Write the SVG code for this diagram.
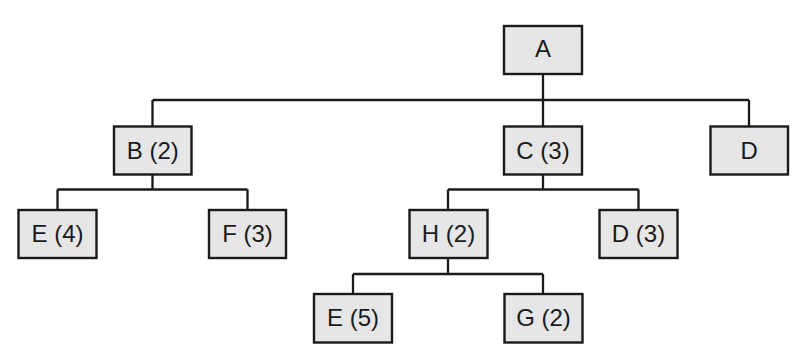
<svg xmlns="http://www.w3.org/2000/svg" width="810" height="363" viewBox="0 0 810 363">
<style>
.n rect{fill:#e6e6e6;stroke:#1a1a1a;stroke-width:2.4}
.n text{font-family:"Liberation Sans",Arial,sans-serif;font-size:24px;fill:#1a1a1a;text-anchor:middle}
.c path{fill:none;stroke:#1a1a1a;stroke-width:2.3}
</style>
<rect width="810" height="363" fill="#ffffff"/>
<g class="c" id="connectors">
<path d="M543 74V100M152.5 100H749M152.5 100V126M543 100V126M749 100V126"/>
<path d="M152.5 174V189.5M57.5 189.5H247.5M57.5 189.5V210M247.5 189.5V210"/>
<path d="M543 174V189.5M448 189.5H638.5M448 189.5V210M638.5 189.5V210"/>
<path d="M448 258V274M353 274H543M353 274V294M543 274V294"/>
</g>
<g class="n" id="A"><rect x="504" y="26" width="78" height="48"/><text x="543" y="57">A</text></g>
<g class="n" id="B"><rect x="114" y="126.5" width="77.5" height="48"/><text x="152.75" y="158.5">B (2)</text></g>
<g class="n" id="C"><rect x="504" y="126.5" width="78" height="48"/><text x="543" y="158.5">C (3)</text></g>
<g class="n" id="D"><rect x="710.5" y="126.5" width="77.5" height="48"/><text x="749.25" y="158.5">D</text></g>
<g class="n" id="E4"><rect x="18.5" y="210" width="78" height="48"/><text x="57.5" y="242">E (4)</text></g>
<g class="n" id="F3"><rect x="209" y="210" width="77" height="48"/><text x="247.5" y="242">F (3)</text></g>
<g class="n" id="H2"><rect x="409.5" y="210" width="78" height="48"/><text x="448.5" y="242">H (2)</text></g>
<g class="n" id="D3"><rect x="599.5" y="210" width="78" height="48"/><text x="638.5" y="242">D (3)</text></g>
<g class="n" id="E5"><rect x="314" y="294" width="78" height="48.5"/><text x="353" y="326">E (5)</text></g>
<g class="n" id="G2"><rect x="504.5" y="294" width="78" height="48.5"/><text x="543.5" y="326">G (2)</text></g>
</svg>
